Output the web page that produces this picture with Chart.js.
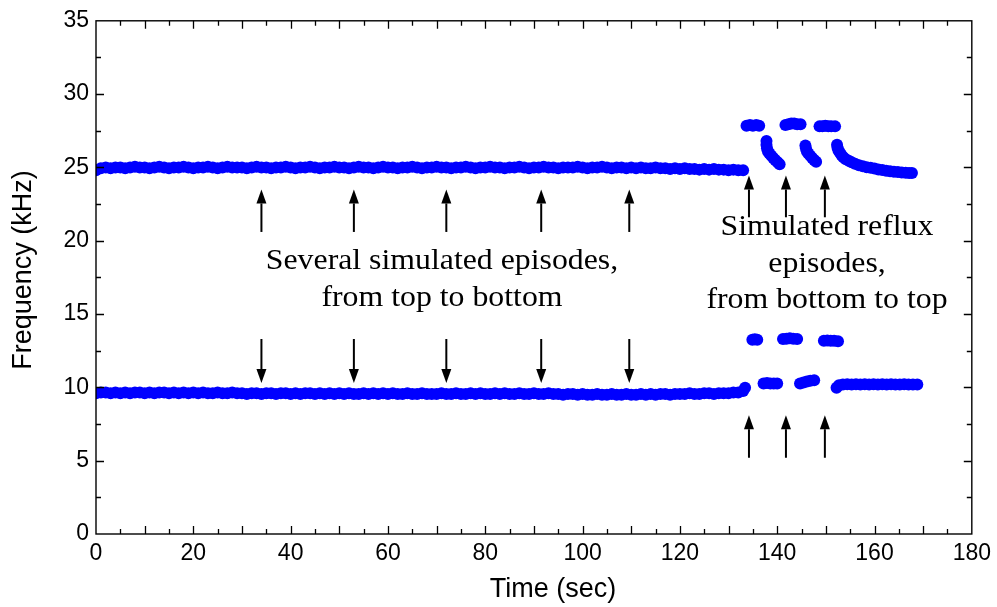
<!DOCTYPE html>
<html>
<head>
<meta charset="utf-8">
<script src="https://cdn.jsdelivr.net/npm/chart.js@4.4.1/dist/chart.umd.min.js"></script>
<style>
html,body{margin:0;padding:0;background:#fff;}
canvas{display:block;}
</style>
</head>
<body>
<canvas id="c" width="997" height="607"></canvas>
<script>
// ---- axis ticks ----
const xTickLabels = [0,20,40,60,80,100,120,140,160,180];
const yTickLabels = [0,5,10,15,20,25,30,35];
const xMajorTicks = [10,20,30,40,50,60,70,80,90,100,110,120,130,140,150,160,170];
const xMinorTicks = [5,15,25,35,45,55,65,75,85,95,105,115,125,135,145,155,165,175];
const yMajorTicks = [5,10,15,20,25,30];
const yMinorTicks = [2.5,7.5,12.5,17.5,22.5,27.5,32.5];
const xAxisTitle = 'Time (sec)';
const yAxisTitle = 'Frequency (kHz)';

// ---- baseline recording (time in sec) ----
const flatTime = [0,1,2,3,4,5,6,7,8,9,10,11,12,13,14,15,16,17,18,19,20,21,22,23,24,25,26,27,28,29,30,31,32,33,34,35,36,37,38,39,40,41,42,43,44,45,46,47,48,49,50,51,52,53,54,55,56,57,58,59,60,61,62,63,64,65,66,67,68,69,70,71,72,73,74,75,76,77,78,79,80,81,82,83,84,85,86,87,88,89,90,91,92,93,94,95,96,97,98,99,100,101,102,103,104,105,106,107,108,109,110,111,112,113,114,115,116,117,118,119,120,121,122,123,124,125,126,127,128,129,130,131,132,133];
const upperFlat = [24.80,24.95,25.00,24.95,25.00,25.00,24.95,25.00,25.05,25.00,
25.00,24.95,25.00,25.05,25.00,24.95,25.00,25.00,25.05,25.00,
24.95,25.00,25.00,25.05,25.00,24.95,25.00,25.05,25.00,25.00,
25.00,24.95,25.00,25.05,25.00,25.00,24.95,25.00,25.00,25.05,
25.00,24.95,25.00,25.00,25.05,25.00,24.95,25.00,25.00,25.05,
25.00,25.00,24.95,25.00,25.05,25.00,25.00,24.95,25.00,25.05,
25.00,25.00,24.95,25.00,25.00,25.05,25.00,24.95,25.00,25.00,
25.05,25.00,25.00,24.95,25.00,25.00,25.05,25.00,24.95,25.00,
25.00,25.05,25.00,25.00,24.95,25.00,25.00,25.05,25.00,24.95,
25.00,25.00,25.05,25.00,25.00,24.95,25.00,25.00,25.00,25.05,
25.00,24.95,25.00,25.00,25.05,25.00,24.95,25.00,25.00,24.95,
25.00,24.95,25.00,24.95,24.95,25.00,24.95,24.95,24.90,24.95,
24.90,24.95,24.90,24.90,24.85,24.90,24.85,24.90,24.85,24.85,
24.80,24.85,24.80,24.80];
const lowerFlat = [9.60,9.65,9.65,9.60,9.65,9.60,9.65,9.60,9.65,9.65,
9.60,9.65,9.60,9.65,9.65,9.60,9.65,9.60,9.65,9.60,
9.65,9.60,9.65,9.60,9.60,9.65,9.60,9.60,9.65,9.60,
9.60,9.55,9.60,9.60,9.55,9.60,9.60,9.55,9.60,9.60,
9.55,9.60,9.55,9.60,9.60,9.55,9.60,9.55,9.60,9.55,
9.60,9.55,9.60,9.55,9.55,9.60,9.55,9.60,9.55,9.60,
9.55,9.60,9.55,9.55,9.60,9.55,9.55,9.60,9.55,9.55,
9.55,9.60,9.55,9.55,9.60,9.55,9.55,9.60,9.55,9.60,
9.55,9.55,9.60,9.55,9.60,9.55,9.55,9.60,9.55,9.55,
9.60,9.55,9.55,9.60,9.55,9.55,9.50,9.55,9.55,9.50,
9.55,9.50,9.50,9.55,9.50,9.50,9.55,9.50,9.50,9.55,
9.50,9.50,9.55,9.50,9.55,9.50,9.55,9.55,9.50,9.55,
9.55,9.55,9.60,9.55,9.55,9.60,9.60,9.55,9.60,9.60,
9.60,9.65,9.65,9.75];

// ---- reflux episodes ----
const upperEpisodeTime = [133.7,134.4,135.0,135.7,136.3,
137.8,137.8,137.9,138.1,138.4,138.8,139.2,139.6,140.1,140.5,
141.7,142.3,142.9,143.5,144.1,144.8,
145.8,145.9,146.1,146.4,146.8,147.2,147.6,148.0,
148.7,149.3,149.9,150.5,151.1,151.9,
152.3,152.4,152.6,152.9,153.2,153.6,154.1,154.7,155.3,156.0,156.8,157.6,158.4,159.2,160.0,160.8,161.6,162.4,163.2,164.0,164.8,165.6,166.4,167.1,167.7];
const upperEpisodeValue = [27.85,27.90,27.85,27.90,27.85,
26.80,26.55,26.30,26.10,25.95,25.80,25.65,25.50,25.35,25.22,
27.90,27.95,28.00,28.00,27.95,27.95,
26.50,26.30,26.10,25.95,25.80,25.65,25.50,25.38,
27.80,27.80,27.85,27.80,27.80,27.80,
26.55,26.35,26.15,26.00,25.85,25.70,25.55,25.45,25.35,25.25,25.15,25.08,25.02,24.97,24.92,24.86,24.82,24.78,24.74,24.70,24.68,24.66,24.64,24.62,24.62];
const lowerEpisodeTime = [133.4,
134.9,135.4,135.9,
137.2,137.9,138.6,139.3,140.0,
141.2,141.9,142.6,143.3,144.1,
144.7,145.4,146.1,146.8,147.6,
149.6,150.3,151.0,151.7,152.5,
152.2,152.7,153.5,154.4,155.3,156.2,157.1,158.0,158.9,159.8,160.7,161.6,162.5,163.4,164.3,165.2,166.1,167.0,167.9,168.8];
const lowerEpisodeValue = [9.97,
13.25,13.28,13.25,
10.27,10.30,10.27,10.27,10.27,
13.30,13.32,13.35,13.32,13.30,
10.27,10.33,10.40,10.45,10.49,
13.18,13.20,13.18,13.18,13.15,
9.97,10.15,10.20,10.22,10.20,10.22,10.20,10.22,10.20,10.22,10.20,10.22,10.20,10.22,10.20,10.20,10.22,10.20,10.20,10.20];

// ---- annotations (data units) ----
const arrowTimesLeft = [34, 53, 72, 91.5, 109.6];
const arrowUpLeft = [20.6, 23.5];     // tail, head (kHz)
const arrowDownLeft = [13.3, 10.3];
const arrowTimesRight = [134.2, 141.8, 149.8];
const arrowUpRightTop = [21.6, 24.45];
const arrowUpRightBottom = [5.2, 8.1];
const leftNoteLines = ["Several simulated episodes,", "from top to bottom"];
const rightNoteLines = ["Simulated reflux", "episodes,", "from bottom to top"];

function pts(t, v){ return t.map((x,i)=>({x:x, y:v[i]})); }

const overlay = {
  id: 'overlay',
  afterDraw(chart){
    const {ctx, chartArea:a, scales:{x, y}} = chart;
    ctx.save();
    ctx.strokeStyle = '#000';
    ctx.fillStyle = '#000';
    // frame
    ctx.lineWidth = 1.4;
    ctx.strokeRect(a.left, a.top, a.right - a.left, a.bottom - a.top);
    // ticks
    ctx.lineWidth = 1.3;
    ctx.beginPath();
    const xt = (v, len) => { const p = Math.round(x.getPixelForValue(v)) + 0.5;
      ctx.moveTo(p, a.bottom); ctx.lineTo(p, a.bottom - len);
      ctx.moveTo(p, a.top); ctx.lineTo(p, a.top + len); };
    const yt = (v, len) => { const p = Math.round(y.getPixelForValue(v)) + 0.5;
      ctx.moveTo(a.left, p); ctx.lineTo(a.left + len, p);
      ctx.moveTo(a.right, p); ctx.lineTo(a.right - len, p); };
    xMajorTicks.forEach(v => xt(v, 8));
    xMinorTicks.forEach(v => xt(v, 5));
    yMajorTicks.forEach(v => yt(v, 8));
    yMinorTicks.forEach(v => yt(v, 5));
    ctx.stroke();
    // axis titles
    ctx.font = '27px "Liberation Sans", Arial, sans-serif';
    ctx.textAlign = 'center';
    ctx.textBaseline = 'middle';
    ctx.fillText(xAxisTitle, 553, 590);
    ctx.save();
    ctx.translate(24, 270);
    ctx.rotate(-Math.PI / 2);
    ctx.fillText(yAxisTitle, 0, 0);
    ctx.restore();
    // arrows
    const arrow = (t, from, to) => {
      const px = x.getPixelForValue(t);
      const y0 = y.getPixelForValue(from), y1 = y.getPixelForValue(to);
      const dir = y1 < y0 ? -1 : 1;
      const hl = 14, hw = 5;
      ctx.lineWidth = 2;
      ctx.beginPath();
      ctx.moveTo(px, y0); ctx.lineTo(px, y1 - dir * hl);
      ctx.stroke();
      ctx.beginPath();
      ctx.moveTo(px, y1);
      ctx.lineTo(px - hw, y1 - dir * hl);
      ctx.lineTo(px + hw, y1 - dir * hl);
      ctx.closePath();
      ctx.fill();
    };
    arrowTimesLeft.forEach(t => { arrow(t, arrowUpLeft[0], arrowUpLeft[1]); arrow(t, arrowDownLeft[0], arrowDownLeft[1]); });
    arrowTimesRight.forEach(t => { arrow(t, arrowUpRightTop[0], arrowUpRightTop[1]); arrow(t, arrowUpRightBottom[0], arrowUpRightBottom[1]); });
    // notes
    ctx.font = '30px "Liberation Serif", "Times New Roman", serif';
    ctx.textAlign = 'center';
    ctx.textBaseline = 'alphabetic';
    const note = (lines, cx, by, gap) => {
      lines.forEach((s, i) => {
        ctx.save();
        ctx.translate(cx, by + i * gap);
        ctx.scale(1.06, 1);
        ctx.fillText(s, 0, 0);
        ctx.restore();
      });
    };
    note(leftNoteLines, 442, 269, 37);
    note(rightNoteLines, 827, 235, 36.7);
    ctx.restore();
  }
};

const dotStyle = {
  showLine: false,
  pointRadius: 6,
  pointHoverRadius: 6,
  pointBorderWidth: 0,
  pointBackgroundColor: '#0000ff',
  pointBorderColor: '#0000ff',
  backgroundColor: '#0000ff',
  borderColor: '#0000ff'
};

new Chart(document.getElementById('c'), {
  type: 'scatter',
  data: {
    datasets: [
      Object.assign({label: 'upper baseline', data: pts(flatTime, upperFlat)}, dotStyle),
      Object.assign({label: 'lower baseline', data: pts(flatTime, lowerFlat)}, dotStyle),
      Object.assign({label: 'upper episodes', data: pts(upperEpisodeTime, upperEpisodeValue)}, dotStyle),
      Object.assign({label: 'lower episodes', data: pts(lowerEpisodeTime, lowerEpisodeValue)}, dotStyle)
    ]
  },
  options: {
    responsive: false,
    animation: false,
    devicePixelRatio: 1,
    events: [],
    layout: { padding: { top: 17, right: 24, left: 0, bottom: 0 } },
    plugins: { legend: { display: false }, tooltip: { enabled: false } },
    scales: {
      x: {
        type: 'linear', min: 0, max: 180,
        afterFit: s => { s.height = 73; },
        afterBuildTicks: s => { s.ticks = xTickLabels.map(v => ({value: v})); },
        grid: { display: false, drawTicks: false },
        border: { display: false },
        ticks: { color: '#000', padding: 6, maxRotation: 0, autoSkip: false,
          font: { family: '"Liberation Sans", Arial, sans-serif', size: 23 } },
        title: { display: false }
      },
      y: {
        type: 'linear', min: 0, max: 35,
        afterFit: s => { s.width = 96; },
        afterBuildTicks: s => { s.ticks = yTickLabels.map(v => ({value: v})); },
        grid: { display: false, drawTicks: false },
        border: { display: false },
        ticks: { color: '#000', padding: 7, autoSkip: false,
          font: { family: '"Liberation Sans", Arial, sans-serif', size: 23 } },
        title: { display: false }
      }
    }
  },
  plugins: [overlay]
});
</script>
</body>
</html>
